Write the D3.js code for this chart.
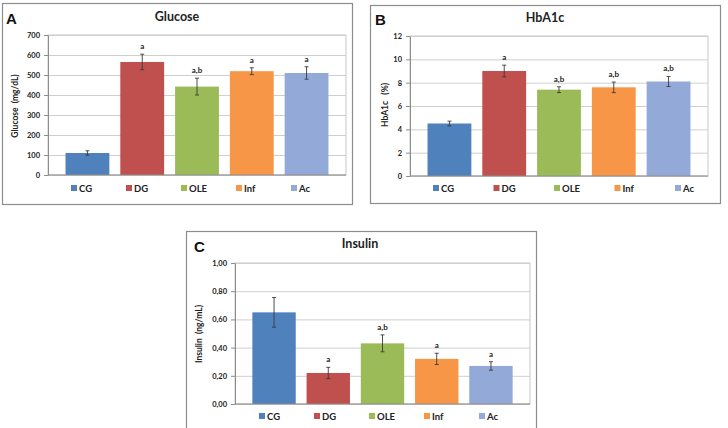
<!DOCTYPE html>
<html>
<head>
<meta charset="utf-8">
<script src="https://cdn.jsdelivr.net/npm/d3@7"></script>
<style>
  body { margin: 0; background: #fff; }
  svg { display: block; }
  .tick text { font-family: Lato, "Open Sans", sans-serif; font-weight: bold; fill: #222; }
</style>
</head>
<body>
<div id="chart"></div>
<script>
// groups + colours
var groups = ["CG", "DG", "OLE", "Inf", "Ac"];
var groupColors = ["#4F81BD", "#C0504D", "#9BBB59", "#F79646", "#93A9D7"];

// glucose (mg/dL)
var glucoseMean = [110, 565, 442, 519, 510];
var glucoseErr = [11, 39, 42, 17, 31];
var glucoseSig = ["", "a", "a,b", "a", "a"];
var glucoseTicks = [0, 100, 200, 300, 400, 500, 600, 700];

// HbA1c (%)
var hbaMean = [4.5, 9.0, 7.4, 7.6, 8.1];
var hbaErr = [0.2, 0.5, 0.25, 0.45, 0.43];
var hbaSig = ["", "a", "a,b", "a,b", "a,b"];
var hbaTicks = [0, 2, 4, 6, 8, 10, 12];

// insulin (ng/mL)
var insulinMean = [0.65, 0.22, 0.43, 0.32, 0.27];
var insulinErr = [0.105, 0.04, 0.06, 0.04, 0.03];
var insulinSig = ["", "a", "a,b", "a", "a"];
var insulinTicks = [0, 0.2, 0.4, 0.6, 0.8, 1.0];

var W = 728, H = 428;
var font = "Lato, 'Open Sans', sans-serif";

var svg = d3.select("#chart").append("svg")
  .attr("width", W)
  .attr("height", H);

var commaLocale = d3.formatLocale({ decimal: ",", thousands: ".", grouping: [3], currency: ["", ""] });

function drawPanel(cfg) {
  var g = svg.append("g");

  // outer frame
  g.append("rect")
    .attr("x", cfg.box[0] + 0.5).attr("y", cfg.box[1] + 0.5)
    .attr("width", cfg.box[2] - cfg.box[0]).attr("height", cfg.box[3] - cfg.box[1])
    .attr("fill", "#fff").attr("stroke", "#8c8c8c").attr("stroke-width", 1.2);

  var y = d3.scaleLinear().domain([0, d3.max(cfg.ticks)]).range([cfg.plot.b, cfg.plot.t]);
  var x = d3.scaleBand().domain(groups).range([cfg.plot.l, cfg.plot.r])
    .paddingInner(0.2).paddingOuter(0.32);

  // plot area border
  g.append("rect")
    .attr("x", cfg.plot.l).attr("y", cfg.plot.t)
    .attr("width", cfg.plot.r - cfg.plot.l).attr("height", cfg.plot.b - cfg.plot.t)
    .attr("fill", "none").attr("stroke", "#c8c8c8");

  // gridlines
  g.append("g")
    .attr("transform", "translate(" + cfg.plot.l + ",0)")
    .call(d3.axisLeft(y).tickValues(cfg.ticks).tickSize(-(cfg.plot.r - cfg.plot.l)).tickFormat(""))
    .call(function(s) {
      s.select(".domain").remove();
      s.selectAll("line").attr("stroke", "#cfcfcf");
    });

  // bars
  g.selectAll("rect.bar").data(cfg.mean).enter().append("rect")
    .attr("class", "bar")
    .attr("x", function(d, i) { return x(groups[i]); })
    .attr("y", function(d) { return y(d); })
    .attr("width", x.bandwidth())
    .attr("height", function(d) { return y(0) - y(d); })
    .attr("fill", function(d, i) { return groupColors[i]; });

  // error bars
  var eb = g.selectAll("g.err").data(cfg.mean).enter().append("g").attr("class", "err")
    .attr("stroke", "#3a3a3a").attr("stroke-width", 0.9);
  eb.append("line")
    .attr("x1", function(d, i) { return x(groups[i]) + x.bandwidth() / 2; })
    .attr("x2", function(d, i) { return x(groups[i]) + x.bandwidth() / 2; })
    .attr("y1", function(d, i) { return y(d - cfg.err[i]); })
    .attr("y2", function(d, i) { return y(d + cfg.err[i]); });
  [-1, 1].forEach(function(sgn) {
    eb.append("line")
      .attr("x1", function(d, i) { return x(groups[i]) + x.bandwidth() / 2 - 2; })
      .attr("x2", function(d, i) { return x(groups[i]) + x.bandwidth() / 2 + 2; })
      .attr("y1", function(d, i) { return y(d + sgn * cfg.err[i]); })
      .attr("y2", function(d, i) { return y(d + sgn * cfg.err[i]); });
  });

  // significance letters
  g.selectAll("text.sig").data(cfg.mean).enter().append("text")
    .attr("class", "sig")
    .attr("x", function(d, i) { return x(groups[i]) + x.bandwidth() / 2; })
    .attr("y", function(d, i) { return y(d + cfg.err[i]) - 5; })
    .attr("text-anchor", "middle")
    .attr("font-family", font).attr("font-weight", "bold").attr("font-size", 8)
    .attr("fill", "#222")
    .text(function(d, i) { return cfg.sig[i]; });

  // y axis
  g.append("g")
    .attr("transform", "translate(" + cfg.plot.l + ",0)")
    .call(d3.axisLeft(y).tickValues(cfg.ticks).tickSizeInner(4).tickSizeOuter(0).tickPadding(4).tickFormat(cfg.fmt))
    .call(function(s) {
      s.select(".domain").attr("stroke", "#8c8c8c");
      s.selectAll("line").attr("stroke", "#8c8c8c");
      s.selectAll("text").attr("font-size", 7.5);
    });

  // x axis baseline
  g.append("line")
    .attr("x1", cfg.plot.l).attr("x2", cfg.plot.r)
    .attr("y1", y(0)).attr("y2", y(0))
    .attr("stroke", "#8c8c8c");

  // title, letter, axis label
  g.append("text")
    .attr("x", cfg.titleX).attr("y", cfg.titleY)
    .attr("text-anchor", "middle")
    .attr("font-family", font).attr("font-weight", "bold").attr("font-size", 12.5)
    .attr("fill", "#222")
    .text(cfg.title);

  g.append("text")
    .attr("x", cfg.letterX).attr("y", cfg.letterY)
    .attr("font-family", "'Liberation Sans', Arial, sans-serif").attr("font-weight", "bold").attr("font-size", 15)
    .attr("fill", "#111")
    .text(cfg.letter);

  g.append("text")
    .attr("transform", "translate(" + cfg.labelX + "," + cfg.labelY + ")rotate(-90)")
    .attr("text-anchor", "middle")
    .attr("dominant-baseline", "central")
    .style("white-space", "pre")
    .attr("font-family", font).attr("font-weight", "bold").attr("font-size", 8.5)
    .attr("fill", "#222")
    .text(cfg.ylabel);

  // legend
  var lg = g.selectAll("g.leg").data(groups).enter().append("g").attr("class", "leg")
    .attr("transform", function(d, i) { return "translate(" + (cfg.legX + i * cfg.legStep) + "," + cfg.legY + ")"; });
  lg.append("rect")
    .attr("x", 0).attr("y", -3).attr("width", 6).attr("height", 6)
    .attr("fill", function(d, i) { return groupColors[i]; });
  lg.append("text")
    .attr("x", 8).attr("y", 0)
    .attr("dominant-baseline", "central")
    .attr("font-family", font).attr("font-weight", "bold").attr("font-size", 9.5)
    .attr("fill", "#222")
    .text(function(d) { return d; });
}

drawPanel({
  box: [2, 3, 352, 204],
  plot: { l: 48, r: 346, t: 35, b: 175 },
  mean: glucoseMean, err: glucoseErr, sig: glucoseSig, ticks: glucoseTicks,
  fmt: d3.format("d"),
  title: "Glucose", titleX: 177, titleY: 21,
  letter: "A", letterX: 6, letterY: 24,
  ylabel: "Glucose  (mg/dL)", labelX: 15, labelY: 106,
  legX: 71, legStep: 55, legY: 188
});

drawPanel({
  box: [370, 5, 720, 203],
  plot: { l: 410, r: 708, t: 36, b: 176 },
  mean: hbaMean, err: hbaErr, sig: hbaSig, ticks: hbaTicks,
  fmt: d3.format("d"),
  title: "HbA1c", titleX: 545, titleY: 22,
  letter: "B", letterX: 375, letterY: 25,
  ylabel: "HbA1c   (%)", labelX: 385, labelY: 105,
  legX: 433, legStep: 60.5, legY: 188
});

drawPanel({
  box: [186, 231, 536, 432],
  plot: { l: 235, r: 530, t: 263, b: 404 },
  mean: insulinMean, err: insulinErr, sig: insulinSig, ticks: insulinTicks,
  fmt: commaLocale.format(".2f"),
  title: "Insulin", titleX: 360, titleY: 248,
  letter: "C", letterX: 194, letterY: 252,
  ylabel: "Insulin  (ng/mL)", labelX: 199, labelY: 334,
  legX: 259, legStep: 55, legY: 416
});
</script>
</body>
</html>
